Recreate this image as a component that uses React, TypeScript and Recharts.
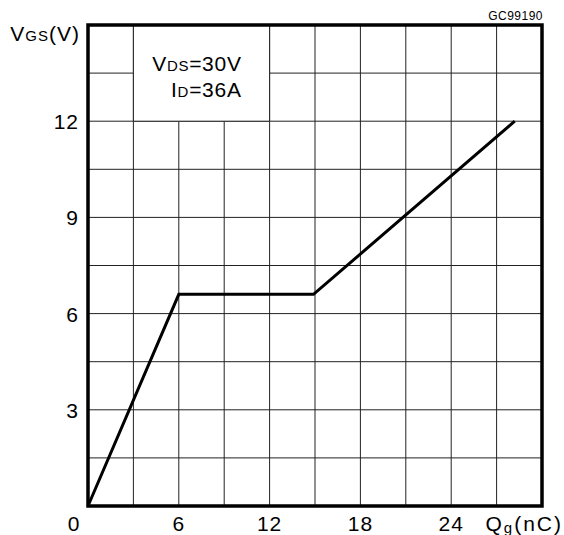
import React from "react";
import { LineChart, Line, XAxis, YAxis, CartesianGrid, ReferenceArea, Label } from "recharts";

const qgValues = [0, 6, 14.9, 28.2];
const vgsValues = [0, 6.6, 6.6, 12];
const xTicks = [0, 6, 12, 18, 24];
const yTicks = [3, 6, 9, 12];
const xGrid = [3, 6, 9, 12, 15, 18, 21, 24, 27];
const yGrid = [1.5, 3, 4.5, 6, 7.5, 9, 10.5, 12, 13.5];
const xDomain = [0, 30];
const yDomain = [0, 15];
const conditionBox = { x1: 3, x2: 12, y1: 12, y2: 15 };

const data = qgValues.map((q, i) => ({ qg: q, vgs: vgsValues[i] }));

const FONT = "'Liberation Sans', Arial, sans-serif";
const W = 564;
const H = 535;

const XTick = (props: any) => {
  const v = props.payload.value;
  return (
    <text x={props.x + (v === 0 ? -14 : 0)} y={531} textAnchor="middle" fontFamily={FONT} fontSize={21} letterSpacing={1} fill="#000">
      {v}
    </text>
  );
};

const YTick = (props: any) => (
  <text x={79} y={props.y + 8} textAnchor="end" fontFamily={FONT} fontSize={21} letterSpacing={1} fill="#000">
    {props.payload.value}
  </text>
);

const XLabel = (props: any) => {
  const vb = props.viewBox;
  return (
    <text x={vb.x + vb.width + 21} y={531} textAnchor="end" fontFamily={FONT} fontSize={21} letterSpacing={2} fill="#000">
      Q<tspan fontSize={15} dy={2}>g</tspan>
      <tspan dy={-2}>(nC)</tspan>
    </text>
  );
};

const YLabel = () => (
  <text x={80} y={41} textAnchor="end" fontFamily={FONT} fontSize={21} letterSpacing={1} fill="#000">
    V<tspan fontSize={15}>GS</tspan>(V)
  </text>
);

const BorderLabel = (props: any) => {
  const vb = props.viewBox;
  return (
    <text x={vb.x + vb.width + 1} y={vb.y - 5} textAnchor="end" fontFamily={FONT} fontSize={12} letterSpacing={0.5} fill="#000">
      GC99190
    </text>
  );
};

const BoxLabel = (props: any) => {
  const vb = props.viewBox;
  const xr = vb.x + vb.width - 28;
  return (
    <g>
      <text x={xr} y={vb.y + 46} textAnchor="end" fontFamily={FONT} fontSize={21} letterSpacing={0.7} fill="#000">
        V<tspan fontSize={15}>DS</tspan>=30V
      </text>
      <text x={xr} y={vb.y + 72} textAnchor="end" fontFamily={FONT} fontSize={21} letterSpacing={0.7} fill="#000">
        I<tspan fontSize={15}>D</tspan>=36A
      </text>
    </g>
  );
};

export default function App() {
  return (
    <div style={{ position: "absolute", left: 0, top: 0, width: W, height: H, background: "#fff" }}>
      <LineChart width={W} height={H} data={data} margin={{ top: 25, right: 22, bottom: 0, left: 0 }}>
        <CartesianGrid
          stroke="#222"
          strokeWidth={1}
          horizontalValues={yGrid}
          verticalValues={xGrid}
        />
        <XAxis
          dataKey="qg"
          type="number"
          domain={xDomain}
          ticks={xTicks}
          axisLine={false}
          tickLine={false}
          height={29}
          tick={<XTick />}
          interval={0}
          label={<Label content={<XLabel />} />}
        />
        <YAxis
          type="number"
          domain={yDomain}
          ticks={yTicks}
          axisLine={false}
          tickLine={false}
          width={88}
          tick={<YTick />}
          interval={0}
          label={<Label content={<YLabel />} />}
        />
        <ReferenceArea
          x1={conditionBox.x1}
          x2={conditionBox.x2}
          y1={conditionBox.y1}
          y2={conditionBox.y2}
          fill="#fff"
          fillOpacity={1}
          stroke="#222"
          strokeWidth={1}
          label={<Label content={<BoxLabel />} />}
        />
        <Line
          dataKey="vgs"
          type="linear"
          stroke="#000"
          strokeWidth={3}
          dot={false}
          isAnimationActive={false}
        />
        <ReferenceArea
          x1={xDomain[0]}
          x2={xDomain[1]}
          y1={yDomain[0]}
          y2={yDomain[1]}
          fill="none"
          stroke="#000"
          strokeWidth={3.5}
          label={<Label content={<BorderLabel />} />}
        />
      </LineChart>
    </div>
  );
}
